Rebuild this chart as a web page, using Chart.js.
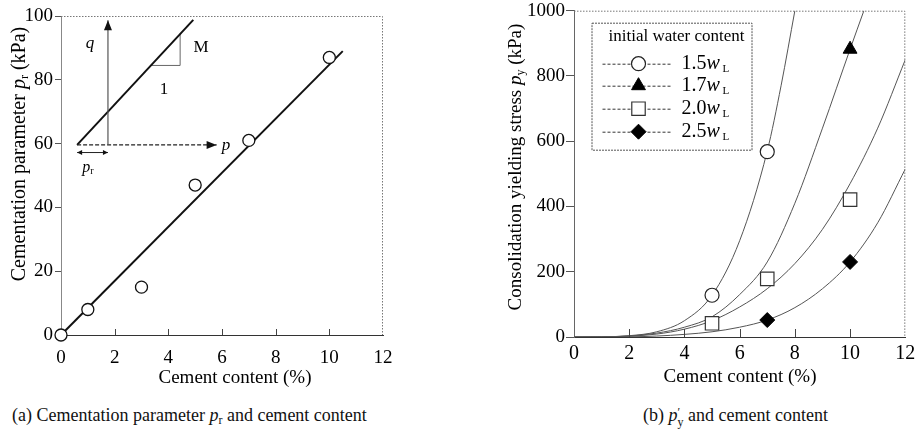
<!DOCTYPE html>
<html>
<head>
<meta charset="utf-8">
<script src="https://cdn.jsdelivr.net/npm/chart.js@4.4.0/dist/chart.umd.min.js"></script>
<style>
  body { margin: 0; background: #fff; width: 916px; height: 434px; position: relative; overflow: hidden;
         font-family: 'Liberation Serif', 'Times New Roman', serif; color: #111; }
  canvas { position: absolute; top: 0; }
  #chartA { left: 0; }
  #chartB { left: 458px; }
  .cap { position: absolute; top: 405px; font-size: 18px; white-space: nowrap; }
  .cap sub { font-size: 12px; vertical-align: -3px; }
  .pp { display: inline-block; vertical-align: -5px; line-height: 10px; font-size: 12px; }
</style>
</head>
<body>
<canvas id="chartA" width="458" height="400"></canvas>
<canvas id="chartB" width="458" height="400"></canvas>
<div class="cap" style="left:12px">(a) Cementation parameter <i>p</i><sub>r</sub> and cement content</div>
<div class="cap" style="left:643px">(b) <i>p</i><span class="pp">′<br>y</span> and cement content</div>

<script>
// (a) cementation parameter vs cement content
const cementA = [0, 1, 3, 5, 7, 10];
const prA = [0, 8, 15, 47, 61, 87];
const fitX = [0, 10.5];
const fitY = [0, 89];

// inset sketch of the q-p plane, drawn in axis units
const qAxisX = [1.75, 1.75];
const qAxisY = [59.6, 98.7];
const pAxisX = [0.6, 5.8];
const pAxisY = [59.6, 59.6];
const mLineX = [0.6, 4.93];
const mLineY = [59.6, 98.8];
const slopeX = [3.36, 4.44, 4.44];
const slopeY = [84.5, 84.5, 94.4];
const prArrowX = [0.6, 1.75];
const prArrowY = [57.2, 57.2];

// (b) consolidation yielding stress, measured points
const seriesNames = ["1.5", "1.7", "2.0", "2.5"];
const py15X = [5, 7];
const py15 = [128, 568];
const py17X = [10];
const py17 = [882];
const py20X = [5, 7, 10];
const py20 = [42, 178, 421];
const py25X = [7, 10];
const py25 = [52, 230];

// (b) fitted curves
const curve15X = [0, 1, 2, 3, 4, 5, 6, 7, 7.5, 8];
const curve15 = [0, 0.5, 4, 16, 50, 128, 295, 570, 770, 1000];
const curve17X = [0, 1, 2, 3, 4, 5, 6, 7, 8, 9, 10, 10.5];
const curve17 = [0, 0.5, 3, 12, 30, 62, 130, 230, 410, 640, 882, 1000];
const curve20X = [0, 1, 2, 3, 4, 5, 6, 7, 8, 9, 10, 11, 12];
const curve20 = [0, 0.3, 2.5, 9, 24, 50, 92, 148, 225, 330, 470, 640, 850];
const curve25X = [0, 2, 3, 4, 5, 6, 7, 8, 9, 10, 11, 12];
const curve25 = [0, 0.5, 3, 8, 16, 30, 52, 90, 148, 230, 350, 515];

const serif = "'Liberation Serif', 'Times New Roman', serif";
Chart.defaults.font.family = serif;
Chart.defaults.font.size = 19;
Chart.defaults.color = "#000";

function pairs(xs, ys) {
  return xs.map((x, i) => ({ x: x, y: ys[i] }));
}

function fnt(size, italic) {
  return (italic ? "italic " : "") + size + "px " + serif;
}

// mixed-style text: parts = [text, size, italic, dy]
function rich(ctx, parts, x, y, rot, left) {
  ctx.save();
  ctx.translate(x, y);
  ctx.rotate(rot || 0);
  let w = 0;
  parts.forEach(p => { ctx.font = fnt(p[1], p[2]); w += ctx.measureText(p[0]).width; });
  let cx = left ? 0 : -w / 2;
  ctx.textBaseline = "middle";
  ctx.textAlign = "left";
  ctx.fillStyle = "#000";
  parts.forEach(p => {
    ctx.font = fnt(p[1], p[2]);
    ctx.fillText(p[0], cx, p[3] || 0);
    cx += ctx.measureText(p[0]).width;
  });
  ctx.restore();
}

function arrowHead(ctx, from, to, len, half) {
  const a = Math.atan2(to.y - from.y, to.x - from.x);
  ctx.save();
  ctx.fillStyle = "#111";
  ctx.beginPath();
  ctx.moveTo(to.x, to.y);
  ctx.lineTo(to.x - len * Math.cos(a) + half * Math.sin(a), to.y - len * Math.sin(a) - half * Math.cos(a));
  ctx.lineTo(to.x - len * Math.cos(a) - half * Math.sin(a), to.y - len * Math.sin(a) + half * Math.cos(a));
  ctx.closePath();
  ctx.fill();
  ctx.restore();
}

function frameAndTicks(chart, tickLen) {
  const ctx = chart.ctx;
  const a = chart.chartArea;
  const xs = chart.scales.x;
  ctx.save();
  ctx.strokeStyle = "#777";
  ctx.lineWidth = 1;
  ctx.setLineDash([1.5, 1.5]);
  ctx.beginPath();
  ctx.moveTo(a.left, a.top + 0.5);
  ctx.lineTo(a.right - 0.5, a.top + 0.5);
  ctx.lineTo(a.right - 0.5, a.bottom);
  ctx.stroke();
  ctx.setLineDash([]);
  ctx.strokeStyle = "#444";
  ctx.beginPath();
  xs.ticks.forEach(t => {
    if (t.value <= xs.min || t.value >= xs.max) return;
    const px = Math.round(xs.getPixelForValue(t.value)) + 0.5;
    ctx.moveTo(px, a.bottom);
    ctx.lineTo(px, a.bottom - tickLen);
  });
  ctx.stroke();
  ctx.restore();
}

const yFit = w => s => { s.width = w; s.paddingTop = 0; s.paddingBottom = 0; };
const xFit = h => s => { s.height = h; s.paddingLeft = 0; s.paddingRight = 0; };
const plain = v => String(v);

const decorA = {
  id: "decorA",
  afterDatasetsDraw(chart) {
    const ctx = chart.ctx;
    const xs = chart.scales.x, ys = chart.scales.y;
    const a = chart.chartArea;
    frameAndTicks(chart, 6);

    const q = chart.getDatasetMeta(2).data;
    arrowHead(ctx, q[0], q[1], 10, 4);
    const p = chart.getDatasetMeta(3).data;
    arrowHead(ctx, p[0], p[1], 10, 4);
    const r = chart.getDatasetMeta(6).data;
    arrowHead(ctx, r[0], r[1], 5, 2.5);
    arrowHead(ctx, r[1], r[0], 5, 2.5);

    const at = (x, y) => [xs.getPixelForValue(x), ys.getPixelForValue(y)];
    let c;
    c = at(1.08, 91.5); rich(ctx, [["q", 17, true]], c[0], c[1]);
    c = at(5.22, 90.2); rich(ctx, [["M", 17, false]], c[0], c[1]);
    c = at(3.84, 76.8); rich(ctx, [["1", 17, false]], c[0], c[1]);
    c = at(6.15, 59.3); rich(ctx, [["p", 17, true]], c[0], c[1]);
    c = at(1.0, 52.5); rich(ctx, [["p", 16, true], ["r", 10, false, 4]], c[0], c[1]);

    rich(ctx, [["Cement content (%)", 19, false]], 235, a.bottom + 43);
    rich(ctx, [["Cementation parameter ", 20, false], ["p", 20, true], ["r", 12, false, 5], [" (kPa)", 20, false]],
      20, 154, -Math.PI / 2);
  }
};

const decorB = {
  id: "decorB",
  afterDatasetsDraw(chart) {
    const ctx = chart.ctx;
    const a = chart.chartArea;
    frameAndTicks(chart, 8);

    // legend box
    const lx = a.left + 17.5, ly = a.top + 12, lw = 160, lh = 127;
    ctx.save();
    ctx.fillStyle = "#fff";
    ctx.fillRect(lx, ly, lw, lh);
    ctx.strokeStyle = "#555";
    ctx.lineWidth = 1;
    ctx.setLineDash([2, 1]);
    ctx.strokeRect(lx + 0.5, ly + 0.5, lw, lh);
    ctx.restore();
    rich(ctx, [["initial water content", 17, false]], lx + 85, ly + 14);
    const rows = [41, 63, 86, 109];
    seriesNames.forEach((name, i) => {
      const ds = chart.data.datasets[i];
      const y = ly + rows[i];
      ctx.save();
      ctx.strokeStyle = "#333";
      ctx.lineWidth = 1;
      ctx.setLineDash([3, 2]);
      ctx.beginPath();
      ctx.moveTo(lx + 11, y + 0.5);
      ctx.lineTo(lx + 81, y + 0.5);
      ctx.stroke();
      ctx.setLineDash([]);
      ctx.fillStyle = ds.pointBackgroundColor;
      ctx.strokeStyle = ds.pointBorderColor;
      ctx.lineWidth = ds.pointBorderWidth;
      Chart.helpers.drawPoint(ctx, { pointStyle: ds.pointStyle, radius: ds.pointRadius, rotation: 0, borderWidth: ds.pointBorderWidth }, lx + 47, y);
      ctx.restore();
      rich(ctx, [[name, 20, false], ["w", 20, true], [" L", 11, false, 5]], lx + 90, y, 0, true);
    });

    rich(ctx, [["Cement content (%)", 19, false]], 282, a.bottom + 40);
    rich(ctx, [["Consolidation yielding stress ", 19, false], ["p", 19, true], ["y", 12, false, 5], [" (kPa)", 19, false]],
      58, 167, -Math.PI / 2);
  }
};

const lineSet = (xs, ys, color, width, dash) => ({
  data: pairs(xs, ys), showLine: true, borderColor: color, borderWidth: width,
  borderDash: dash || [], pointRadius: 0
});

const curveSet = (xs, ys) => ({
  data: pairs(xs, ys), showLine: true, borderColor: "#555", borderWidth: 1,
  pointRadius: 0, tension: 0.4, cubicInterpolationMode: "monotone"
});

new Chart(document.getElementById("chartA"), {
  type: "scatter",
  data: {
    datasets: [
      {
        data: pairs(cementA, prA), pointStyle: "circle", pointRadius: 6,
        pointBackgroundColor: "#fff", pointBorderColor: "#111", pointBorderWidth: 1.3, clip: false
      },
      lineSet(fitX, fitY, "#111", 2),
      lineSet(qAxisX, qAxisY, "#555", 1.2),
      lineSet(pAxisX, pAxisY, "#222", 1.3, [4, 2]),
      lineSet(mLineX, mLineY, "#111", 2),
      lineSet(slopeX, slopeY, "#666", 1),
      lineSet(prArrowX, prArrowY, "#222", 1)
    ]
  },
  options: {
    responsive: false,
    animation: false,
    events: [],
    devicePixelRatio: 1,
    layout: { padding: { left: 0, right: 75, top: 16, bottom: 0 } },
    plugins: { legend: { display: false }, tooltip: { enabled: false } },
    scales: {
      x: {
        type: "linear", min: 0, max: 12,
        ticks: { stepSize: 2, padding: 12, callback: plain },
        grid: { display: false, drawTicks: false },
        border: { color: "#333", dash: [2, 1] },
        afterFit: xFit(65)
      },
      y: {
        min: 0, max: 100,
        ticks: { stepSize: 20, padding: 2, callback: plain },
        grid: { drawOnChartArea: false, drawTicks: true, tickLength: 6, color: "#555" },
        border: { color: "#888", dash: [1.5, 1.5] },
        afterFit: yFit(61)
      }
    }
  },
  plugins: [decorA]
});

new Chart(document.getElementById("chartB"), {
  type: "scatter",
  data: {
    datasets: [
      { data: pairs(py15X, py15), pointStyle: "circle", pointRadius: 7, pointBackgroundColor: "#fff", pointBorderColor: "#222", pointBorderWidth: 1.2 },
      { data: pairs(py17X, py17), pointStyle: "triangle", pointRadius: 8, pointBackgroundColor: "#000", pointBorderColor: "#000", pointBorderWidth: 1 },
      { data: pairs(py20X, py20), pointStyle: "rect", pointRadius: 9.5, pointBackgroundColor: "#fff", pointBorderColor: "#333", pointBorderWidth: 1.2 },
      { data: pairs(py25X, py25), pointStyle: "rectRot", pointRadius: 7.5, pointBackgroundColor: "#000", pointBorderColor: "#000", pointBorderWidth: 1 },
      curveSet(curve15X, curve15),
      curveSet(curve17X, curve17),
      curveSet(curve20X, curve20),
      curveSet(curve25X, curve25)
    ]
  },
  options: {
    responsive: false,
    animation: false,
    events: [],
    devicePixelRatio: 1,
    layout: { padding: { left: 0, right: 9, top: 7, bottom: 0 } },
    plugins: { legend: { display: false }, tooltip: { enabled: false } },
    scales: {
      x: {
        type: "linear", min: 0, max: 12,
        ticks: { stepSize: 2, padding: 5, font: { size: 20 }, callback: plain },
        grid: { display: false, drawTicks: false },
        border: { color: "#333", dash: [2, 1] },
        afterFit: xFit(63)
      },
      y: {
        min: 0, max: 1000,
        ticks: { stepSize: 200, padding: 1, font: { size: 19 }, callback: plain },
        grid: { drawOnChartArea: false, drawTicks: true, tickLength: 8, color: "#555" },
        border: { color: "#666" },
        afterFit: yFit(116)
      }
    }
  },
  plugins: [decorB]
});
</script>
</body>
</html>
